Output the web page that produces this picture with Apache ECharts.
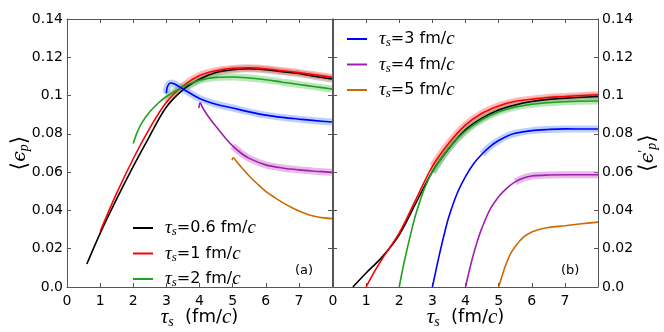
<!doctype html>
<html lang="en">
<head>
    <meta charset="UTF-8">
    <title>epsilon_p vs tau_s</title>
    <script src="https://cdn.jsdelivr.net/npm/echarts@6/dist/echarts.min.js"></script>
    <style>
        html, body { margin: 0; padding: 0; background: #fff; }
        #chart { width: 664px; height: 332px; }
    </style>
</head>
<body>
<div id="chart"></div>
<script>
    // ---- panel (a): <eps_p> vs tau_s ----
    var aX06 = [0.6, 1, 1.5, 2, 2.5, 3, 3.5, 4, 4.5, 5, 5.5, 6, 6.5, 7, 7.5, 8];
    var aY06 = [0.012, 0.028, 0.046, 0.063, 0.079, 0.094, 0.103, 0.1085, 0.112, 0.1135, 0.114, 0.1135, 0.1125, 0.1115, 0.110, 0.1087];
    var aX1 = [1, 1.5, 2, 2.5, 3, 3.5, 4, 4.5, 5, 5.5, 6, 6.5, 7, 7.5, 8];
    var aY1 = [0.029, 0.049, 0.067, 0.083, 0.0965, 0.105, 0.1105, 0.113, 0.1142, 0.1145, 0.114, 0.113, 0.112, 0.1108, 0.1095];
    var aX2 = [2, 2.1, 2.25, 2.5, 2.75, 3, 3.5, 4, 4.5, 5, 5.5, 6, 6.5, 7, 7.5, 8];
    var aY2 = [0.075, 0.080, 0.0855, 0.0915, 0.096, 0.0995, 0.1045, 0.108, 0.1095, 0.1097, 0.1092, 0.1083, 0.107, 0.1058, 0.1046, 0.1034];
    var aX3 = [3, 3.02, 3.08, 3.15, 3.25, 3.5, 4, 4.5, 5, 5.5, 6, 6.5, 7, 7.5, 8];
    var aY3 = [0.1012, 0.104, 0.1062, 0.1066, 0.106, 0.1035, 0.0985, 0.0955, 0.0935, 0.0915, 0.0898, 0.0886, 0.0877, 0.0869, 0.0862];
    var aX4 = [3.98, 4.02, 4.1, 4.25, 4.5, 4.75, 5, 5.25, 5.5, 6, 6.5, 7, 7.5, 8];
    var aY4 = [0.0935, 0.0962, 0.0935, 0.0895, 0.0838, 0.0785, 0.0737, 0.0700, 0.0672, 0.0638, 0.0622, 0.0612, 0.0605, 0.0599];
    var aX5 = [4.98, 5.02, 5.1, 5.25, 5.5, 5.75, 6, 6.25, 6.5, 6.75, 7, 7.25, 7.5, 7.75, 8];
    var aY5 = [0.0662, 0.0675, 0.0660, 0.0628, 0.0580, 0.0538, 0.0500, 0.0470, 0.0442, 0.0418, 0.0397, 0.0380, 0.0368, 0.0361, 0.0357];

    // ---- panel (b): <eps'_p> vs tau_s ----
    var bX06 = [0.6, 1, 1.5, 2, 2.5, 3, 3.5, 4, 4.5, 5, 5.5, 6, 6.5, 7, 7.5, 8];
    var bY06 = [0, 0.0073, 0.016, 0.0273, 0.0438, 0.0603, 0.0725, 0.0821, 0.0882, 0.0925, 0.0951, 0.0969, 0.098, 0.0986, 0.0991, 0.0995];
    var bX1 = [1, 1.25, 1.5, 2, 2.5, 3, 3.5, 4, 4.5, 5, 5.5, 6, 6.5, 7, 7.5, 8];
    var bY1 = [0, 0.008, 0.0151, 0.0282, 0.0456, 0.063, 0.0752, 0.0847, 0.0908, 0.0946, 0.097, 0.0981, 0.099, 0.0995, 0.1, 0.1004];
    var bX2 = [2, 2.1, 2.2, 2.35, 2.5, 2.75, 3, 3.5, 4, 4.5, 5, 5.5, 6, 7, 8];
    var bY2 = [0, 0.009, 0.017, 0.028, 0.038, 0.051, 0.060, 0.0728, 0.0815, 0.0875, 0.0915, 0.094, 0.0955, 0.0968, 0.0972];
    var bX3 = [3, 3.1, 3.2, 3.35, 3.5, 3.75, 4, 4.25, 4.5, 4.75, 5, 5.25, 5.5, 6, 6.5, 7, 8];
    var bY3 = [0, 0.008, 0.016, 0.027, 0.0368, 0.049, 0.0577, 0.0645, 0.0695, 0.0735, 0.0765, 0.0788, 0.0803, 0.0817, 0.0823, 0.0826, 0.0825];
    var bX4 = [4, 4.1, 4.2, 4.35, 4.5, 4.75, 5, 5.25, 5.5, 5.75, 6, 6.5, 7, 8];
    var bY4 = [0, 0.0075, 0.0145, 0.0235, 0.031, 0.0408, 0.0472, 0.0517, 0.0549, 0.0569, 0.058, 0.0585, 0.0586, 0.0586];
    var bX5 = [5, 5.1, 5.2, 5.35, 5.5, 5.75, 6, 6.25, 6.5, 7, 7.5, 8];
    var bY5 = [0, 0.0055, 0.0108, 0.017, 0.0212, 0.026, 0.0287, 0.0302, 0.0311, 0.032, 0.033, 0.0339];

    var xTicks = [0, 1, 2, 3, 4, 5, 6, 7];

    var names = ['0.6', '1', '2', '3', '4', '5'];
    var colors = ['#000000', '#ff0000', '#1fa11f', '#0000ff', '#a01fb0', '#cc6a00'];
    var bandCol = ['#888888', '#ff6666', '#66cc66', '#6699ff', '#cc66cc', '#dd9944'];
    var bandFromA = [3.3, 2.8, 2.8, 3.0, 4.8, 99];
    var bandFromB = [3.0, 3.0, 3.0, 4.3, 5.3, 99];

    var aX = [aX06, aX1, aX2, aX3, aX4, aX5], aY = [aY06, aY1, aY2, aY3, aY4, aY5];
    var bX = [bX06, bX1, bX2, bX3, bX4, bX5], bY = [bY06, bY1, bY2, bY3, bY4, bY5];

    function pairs(xs, ys, from) {
        var out = [];
        for (var i = 0; i < xs.length; i++) {
            if (xs[i] >= from) out.push([xs[i], ys[i]]);
        }
        return out;
    }
    function legName(i) { return '\u03c4s=' + names[i] + ' fm/c'; }

    var frame = '#555555';
    var mathFont = '"Liberation Serif", "DejaVu Serif", serif';
    var sansFont = '"DejaVu Sans", sans-serif';

    var mathRich = {
        t: { fontFamily: mathFont, fontStyle: 'italic', fontSize: 19, color: '#000' },
        s: { fontFamily: mathFont, fontStyle: 'italic', fontSize: 13, color: '#000', padding: [8, 0, 0, 0] },
        n: { fontFamily: sansFont, fontSize: 16, color: '#000' },
        c: { fontFamily: mathFont, fontStyle: 'italic', fontSize: 19, color: '#000' },
        g: { width: 7, fontSize: 10 }
    };
    var xNameRich = {
        t: { fontFamily: mathFont, fontStyle: 'italic', fontSize: 21, color: '#000' },
        s: { fontFamily: mathFont, fontStyle: 'italic', fontSize: 14, color: '#000', padding: [9, 0, 0, 0] },
        n: { fontFamily: sansFont, fontSize: 18, color: '#000' },
        c: { fontFamily: mathFont, fontStyle: 'italic', fontSize: 21, color: '#000' }
    };
    var yNameRich = {
        b: { fontFamily: mathFont, fontSize: 22, fill: '#000' },
        e: { fontFamily: '"DejaVu Serif", serif', fontStyle: 'italic', fontSize: 19, fill: '#000' },
        p: { fontFamily: mathFont, fontStyle: 'italic', fontSize: 14, fill: '#000', padding: [9, 0, 0, 0] },
        q: { fontFamily: mathFont, fontSize: 14, fill: '#000', padding: [0, 0, 8, 0] }
    };

    function yLabel(v) { return v === 0 ? '0.0' : String(+v.toFixed(2)); }
    function xLabel(v) { return xTicks.indexOf(v) >= 0 ? String(v) : ''; }

    function xAx(grid, bottom) {
        return {
            type: 'value', gridIndex: grid, position: bottom ? 'bottom' : 'top',
            min: 0, max: 8, interval: 1,
            axisLine: { show: true, onZero: false, lineStyle: { color: frame, width: 1 } },
            axisTick: { show: true, inside: true, length: 4, lineStyle: { color: frame } },
            axisLabel: { show: bottom, formatter: xLabel, margin: 7, fontFamily: sansFont, fontSize: 14, color: '#000' },
            splitLine: { show: false },
            name: bottom ? '{t|\u03c4}{s|s}{n|  (fm/}{c|c}{n|)}' : '',
            nameLocation: 'middle', nameGap: 19, nameMoveOverlap: false,
            nameTextStyle: { rich: xNameRich }
        };
    }
    function yAx(grid, pos, labels) {
        return {
            type: 'value', gridIndex: grid, position: pos,
            min: 0, max: 0.14, interval: 0.02,
            axisLine: { show: true, onZero: false, lineStyle: { color: frame, width: 1 } },
            axisTick: { show: true, inside: true, length: 4, lineStyle: { color: frame } },
            axisLabel: { show: labels, formatter: yLabel, margin: 4, fontFamily: sansFont, fontSize: 14, color: '#000' },
            splitLine: { show: false }
        };
    }

    var series = [];
    function addPanel(xsArr, ysArr, from, xi, yi) {
        for (var i = 0; i < 6; i++) {
            series.push({
                type: 'line', xAxisIndex: xi, yAxisIndex: yi, silent: true,
                data: pairs(xsArr[i], ysArr[i], from[i]),
                showSymbol: false, smooth: 0.35, z: 1,
                lineStyle: { color: bandCol[i], width: 7, opacity: 0.45 }
            });
        }
        for (var j = 0; j < 6; j++) {
            series.push({
                name: legName(j), type: 'line', xAxisIndex: xi, yAxisIndex: yi,
                data: pairs(xsArr[j], ysArr[j], -1),
                showSymbol: false, smooth: 0.35, z: 3,
                itemStyle: { color: colors[j] },
                lineStyle: { color: colors[j], width: 1.6 }
            });
        }
    }
    addPanel(aX, aY, bandFromA, 0, 0);
    addPanel(bX, bY, bandFromB, 2, 2);

    function legFmt(name) {
        var v = name.split('=')[1].replace(' fm/c', '');
        return '{g| }{t|\u03c4}{s|s}{n|=' + v + ' fm/}{c|c}';
    }
    function legend(list, left, top, gap) {
        return {
            data: list, orient: 'vertical', left: left, top: top,
            icon: 'rect', itemWidth: 20, itemHeight: 2, itemGap: gap,
            selectedMode: false, padding: 0,
            formatter: legFmt,
            textStyle: { lineHeight: 20, rich: mathRich }
        };
    }
    function yName(text, x) {
        return {
            type: 'text', x: x, y: 153, rotation: Math.PI / 2,
            style: { text: text, rich: yNameRich, align: 'center', verticalAlign: 'middle' }
        };
    }

    var chart = echarts.init(document.getElementById('chart'));
    chart.setOption({
        animation: false,
        backgroundColor: '#ffffff',
        grid: [
            { left: 67, top: 19, width: 265, height: 268, outerBoundsMode: 'none' },
            { left: 333, top: 19, width: 265, height: 268, outerBoundsMode: 'none' }
        ],
        xAxis: [xAx(0, true), xAx(0, false), xAx(1, true), xAx(1, false)],
        yAxis: [
            yAx(0, 'left', true),
            yAx(0, 'right', false),
            yAx(1, 'right', true),
            yAx(1, 'left', false)
        ],
        legend: [
            legend([legName(0), legName(1), legName(2)], 133, 218, 5),
            legend([legName(3), legName(4), legName(5)], 347, 29, 5)
        ],
        graphic: [
            yName('{b|\u27e8}{e|\u03f5}{p|p}{b|\u27e9}', 20),
            yName('{b|\u27e8}{e|\u03f5}{q|\u2032}{p|p}{b|\u27e9}', 648),
            { type: 'text', left: 295, top: 264, style: { text: '(a)', font: '13px "DejaVu Sans"', fill: '#000' } },
            { type: 'text', left: 561, top: 264, style: { text: '(b)', font: '13px "DejaVu Sans"', fill: '#000' } }
        ],
        series: series
    });
</script>
</body>
</html>
